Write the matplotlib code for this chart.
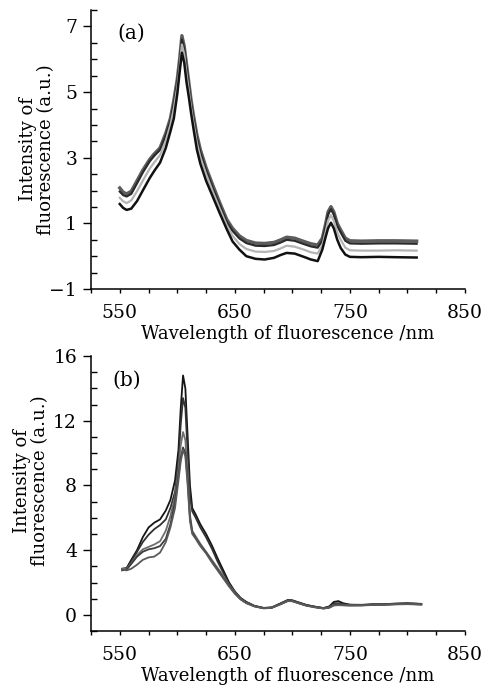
import matplotlib
matplotlib.use("Agg")
import matplotlib.pyplot as plt
from matplotlib.ticker import MultipleLocator, FixedLocator

plt.rcParams['font.family'] = ['DejaVu Serif']
plt.rcParams['font.size'] = 12.5

# ---- panel (a) data ----
wl_a = [550, 553, 556, 560, 565, 570, 576, 580, 585, 590, 594, 597, 600, 602, 604,
        606, 608, 610, 612, 614, 617, 620, 625, 631, 637, 643, 648, 654, 660, 668,
        676, 684, 690, 695, 702, 710, 716, 722, 726, 729, 731, 733.5, 736, 739, 742,
        746, 750, 760, 775, 790, 808]
a1 = [2.08, 1.95, 1.90, 1.98, 2.30, 2.62, 2.95, 3.12, 3.30, 3.75, 4.20, 4.75, 5.40, 6.00, 6.72,
      6.40, 5.85, 5.30, 4.75, 4.30, 3.70, 3.25, 2.70, 2.15, 1.62, 1.12, 0.85, 0.62, 0.48, 0.40,
      0.39, 0.42, 0.50, 0.58, 0.55, 0.45, 0.38, 0.34, 0.55, 1.00, 1.35, 1.51, 1.35, 1.00, 0.80,
      0.55, 0.47, 0.46, 0.47, 0.47, 0.46]
a2 = [1.97, 1.86, 1.82, 1.90, 2.22, 2.55, 2.89, 3.06, 3.24, 3.68, 4.12, 4.65, 5.30, 5.90, 6.60,
      6.30, 5.75, 5.20, 4.65, 4.20, 3.60, 3.16, 2.62, 2.06, 1.54, 1.04, 0.77, 0.54, 0.40, 0.32,
      0.31, 0.34, 0.42, 0.50, 0.47, 0.37, 0.30, 0.26, 0.47, 0.92, 1.27, 1.43, 1.27, 0.92, 0.72,
      0.47, 0.39, 0.38, 0.39, 0.39, 0.38]
a3 = [1.78, 1.67, 1.62, 1.70, 1.98, 2.30, 2.67, 2.86, 3.08, 3.52, 4.00, 4.50, 5.15, 5.75, 6.45,
      6.15, 5.55, 5.05, 4.52, 4.08, 3.45, 3.02, 2.50, 1.95, 1.44, 0.94, 0.62, 0.37, 0.22, 0.14,
      0.13, 0.16, 0.24, 0.32, 0.29, 0.20, 0.12, 0.08, 0.33, 0.75, 1.08, 1.25, 1.08, 0.72, 0.50,
      0.26, 0.18, 0.17, 0.17, 0.18, 0.17]
a4 = [1.59, 1.47, 1.41, 1.45, 1.68, 2.00, 2.38, 2.60, 2.85, 3.30, 3.80, 4.20, 4.95, 5.60, 6.20,
      5.90, 5.30, 4.85, 4.35, 3.90, 3.25, 2.82, 2.30, 1.80, 1.30, 0.82, 0.45, 0.20, 0.00, -0.08,
      -0.10, -0.05, 0.04, 0.10, 0.08, -0.02, -0.10, -0.15, 0.20, 0.60, 0.85, 1.02, 0.85, 0.50, 0.25,
      0.05, -0.02, -0.03, -0.02, -0.03, -0.04]

# ---- panel (b) data ----
wl_b = [552, 556, 560, 565, 570, 575, 580, 585, 590, 594, 598, 601, 603, 605, 607,
        609, 611, 613, 616, 620, 625, 630, 635, 640, 645, 650, 655, 660, 667, 675,
        682, 690, 696, 700, 706, 712, 720, 727, 732, 736, 740, 744, 750, 760, 770,
        780, 790, 800, 806, 812]
b1 = [2.85, 2.90, 3.40, 4.00, 4.80, 5.40, 5.70, 5.90, 6.45, 7.10, 8.30, 10.2, 12.8, 14.8, 14.0,
      11.0, 8.00, 6.60, 6.20, 5.60, 5.00, 4.30, 3.50, 2.75, 2.00, 1.45, 1.05, 0.80, 0.56, 0.43,
      0.46, 0.72, 0.92, 0.90, 0.76, 0.62, 0.50, 0.42, 0.52, 0.80, 0.85, 0.72, 0.63, 0.62, 0.66,
      0.66, 0.70, 0.72, 0.70, 0.68]
b2 = [2.80, 2.85, 3.30, 3.90, 4.50, 4.95, 5.30, 5.55, 5.90, 6.60, 7.60, 9.50, 11.8, 13.4, 12.8,
      10.0, 7.30, 6.40, 6.00, 5.40, 4.80, 4.10, 3.30, 2.60, 1.90, 1.40, 1.00, 0.78, 0.55, 0.42,
      0.45, 0.70, 0.90, 0.88, 0.74, 0.60, 0.50, 0.42, 0.48, 0.70, 0.72, 0.66, 0.62, 0.60, 0.64,
      0.65, 0.68, 0.70, 0.69, 0.67]
b3 = [2.85, 2.85, 3.20, 3.70, 4.05, 4.20, 4.35, 4.55, 5.20, 6.10, 7.30, 9.00, 10.5, 11.3, 10.8,
      8.80, 6.20, 5.20, 4.85, 4.40, 3.90, 3.40, 2.90, 2.40, 1.85, 1.40, 1.00, 0.75, 0.54, 0.42,
      0.44, 0.68, 0.88, 0.86, 0.72, 0.58, 0.48, 0.40, 0.46, 0.62, 0.64, 0.62, 0.60, 0.60, 0.63,
      0.64, 0.67, 0.68, 0.67, 0.66]
b4 = [2.75, 2.80, 3.15, 3.60, 3.90, 4.05, 4.12, 4.25, 4.70, 5.60, 7.00, 8.60, 9.70, 10.35, 10.0,
      8.30, 6.00, 5.10, 4.75, 4.30, 3.85, 3.30, 2.80, 2.30, 1.80, 1.35, 0.98, 0.73, 0.53, 0.41,
      0.44, 0.67, 0.86, 0.85, 0.71, 0.58, 0.47, 0.40, 0.45, 0.60, 0.62, 0.60, 0.58, 0.59, 0.62,
      0.63, 0.66, 0.67, 0.66, 0.64]
b5 = [2.80, 2.75, 2.85, 3.10, 3.40, 3.55, 3.60, 3.85, 4.50, 5.40, 6.60, 8.30, 9.50, 10.2, 9.80,
      8.00, 5.80, 5.00, 4.70, 4.25, 3.80, 3.25, 2.75, 2.25, 1.75, 1.30, 0.95, 0.72, 0.52, 0.40,
      0.43, 0.66, 0.85, 0.84, 0.70, 0.57, 0.46, 0.39, 0.44, 0.58, 0.60, 0.59, 0.58, 0.58, 0.61,
      0.62, 0.65, 0.66, 0.65, 0.63]

xlabel = 'Wavelength of fluorescence /nm'
ylabel = 'Intensity of\nfluorescence (a.u.)'


def style_axes(ax, ymin, ymax, yticks, yminor):
    ax.set_xlim(525, 850)
    ax.set_ylim(ymin, ymax)
    for s in ['top', 'right']:
        ax.spines[s].set_visible(False)
    ax.spines['left'].set_linewidth(1.1)
    ax.spines['bottom'].set_linewidth(1.1)
    ax.xaxis.set_major_locator(FixedLocator([550, 650, 750, 850]))
    ax.xaxis.set_minor_locator(MultipleLocator(25))
    ax.yaxis.set_major_locator(FixedLocator(yticks))
    ax.yaxis.set_minor_locator(MultipleLocator(yminor))
    ax.tick_params(axis='both', which='major', labelsize=13.5)
    ax.tick_params(axis='x', which='both', direction='out', length=3, width=1, pad=8)
    ax.tick_params(axis='y', which='major', direction='out', length=6, width=1, pad=4)
    ax.tick_params(axis='y', which='minor', direction='in', length=4, width=1)
    ax.set_xlabel(xlabel, va='center', fontsize=13)
    ax.set_ylabel(ylabel, va='center', linespacing=1.0, fontsize=13)


fig = plt.figure(figsize=(4.94, 6.88), dpi=100)

ax1 = fig.add_axes([0.1842, 0.5799, 0.7571, 0.4055])
ax1.plot(wl_a, a1, color='#5c5c5c', lw=2.4)
ax1.plot(wl_a, a2, color='#2a2a2a', lw=1.6)
ax1.plot(wl_a, a3, color='#b4b4b4', lw=1.6)
ax1.plot(wl_a, a4, color='#111111', lw=1.8)
style_axes(ax1, -1, 7.5, [-1, 1, 3, 5, 7], 0.5)
ax1.text(547.5, 6.79, '(a)', ha='left', va='center', fontsize=14.5)
ax1.xaxis.set_label_coords(0.525, -0.161)
ax1.yaxis.set_label_coords(-0.144, 0.5)

ax2 = fig.add_axes([0.1842, 0.0828, 0.7571, 0.3997])
ax2.plot(wl_b, b1, color='#151515', lw=1.3)
ax2.plot(wl_b, b2, color='#303030', lw=1.3)
ax2.plot(wl_b, b3, color='#6e6e6e', lw=1.3)
ax2.plot(wl_b, b4, color='#3c3c3c', lw=1.3)
ax2.plot(wl_b, b5, color='#5a5a5a', lw=1.3)
style_axes(ax2, -1, 16, [0, 4, 8, 12, 16], 1)
ax2.text(543.5, 14.5, '(b)', ha='left', va='center', fontsize=14.5)
ax2.xaxis.set_label_coords(0.525, -0.164)
ax2.yaxis.set_label_coords(-0.160, 0.545)

fig.savefig('out.png', dpi=100, facecolor='white')
